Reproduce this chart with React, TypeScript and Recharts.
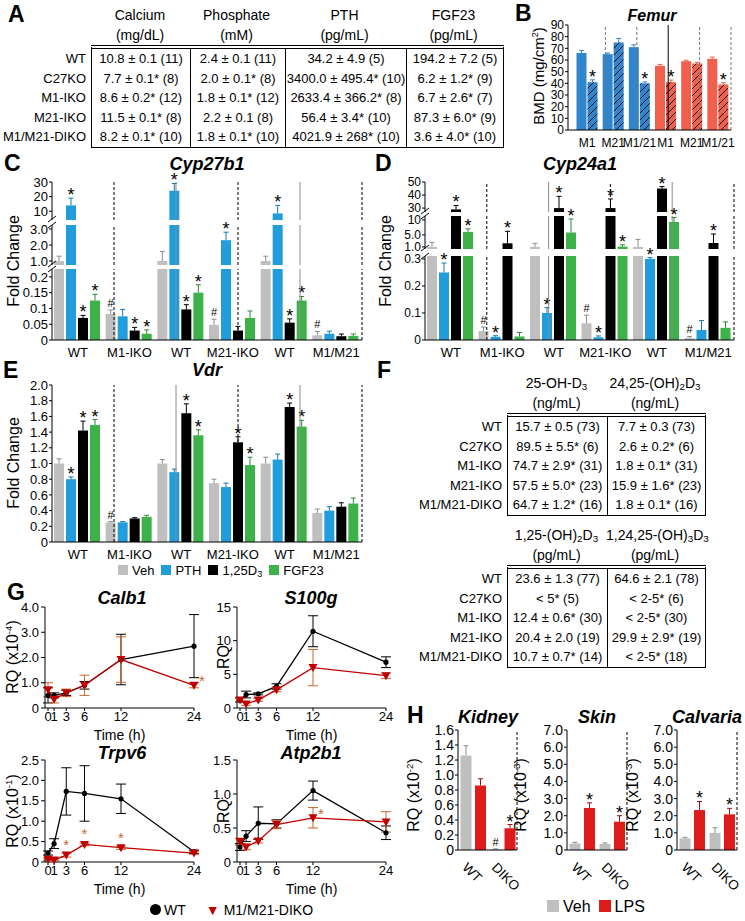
import React from "react";
import {
  BarChart,
  Bar,
  XAxis,
  YAxis,
  ReferenceLine,
  LineChart,
  Line,
  ErrorBar,
  Cell,
  LabelList,
} from "recharts";

type Pt = [number, number, string];
type Pair = [number, number];

const SANS = "'Liberation Sans', Arial, Helvetica, sans-serif";

const GRAY = "#bfbfbf";
const BLUE = "#229ddb";
const GREEN = "#3db249";
const BMD_BLUE = "#2f86cc";
const BMD_RED = "#f0604d";
const LPS_RED = "#dd1b1b";
const DIKO_RED = "#c00000";
const DIKO_ERR = "#c8682e";

// ---------- A: serum values
const serumRows = ["WT", "C27KO", "M1-IKO", "M21-IKO", "M1/M21-DIKO"];
const calciumCol = ["10.8 ± 0.1 (11)", "7.7 ± 0.1* (8)", "8.6 ± 0.2* (12)", "11.5 ± 0.1* (8)", "8.2 ± 0.1* (10)"];
const phosphateCol = ["2.4 ± 0.1 (11)", "2.0 ± 0.1* (8)", "1.8 ± 0.1* (12)", "2.2 ± 0.1 (8)", "1.8 ± 0.1* (10)"];
const pthCol = ["34.2 ± 4.9 (5)", "3400.0 ± 495.4* (10)", "2633.4 ± 366.2* (8)", "56.4 ± 3.4* (10)", "4021.9 ± 268* (10)"];
const fgf23Col = ["194.2 ± 7.2 (5)", "6.2 ± 1.2* (9)", "6.7 ± 2.6* (7)", "87.3 ± 6.0* (9)", "3.6 ± 4.0* (10)"];

// ---------- B: femur BMD
const bmdLabels = ["M1", "M21", "M1/21", "M1", "M21", "M1/21"];
const bmdCtrl: Pt[] = [[66, 2, ""], [65, 1, ""], [71, 2, ""], [55, 1.2, ""], [59, 0.8, ""], [61, 1.5, ""]];
const bmdKo: Pt[] = [[41, 2, "*"], [75, 3.5, ""], [40, 1.2, "*"], [41, 1.8, "*"], [57, 1, ""], [39, 1.5, "*"]];

// ---------- C/D/E: kidney gene expression
const kidneyGroups = ["WT", "M1-IKO", "WT", "M21-IKO", "WT", "M1/M21"];

const cyp27Veh: Pt[] = [[1.0, 0.3, ""], [0.083, 0.012, "#"], [1.0, 0.6, ""], [0.048, 0.018, "#"], [1.0, 0.3, ""], [0.015, 0.012, "#"]];
const cyp27Pth: Pt[] = [[14, 5, "*"], [0.075, 0.022, ""], [24, 5, "*"], [2.3, 0.5, "*"], [8.5, 5.5, "*"], [0.02, 0.008, ""]];
const cyp27D3: Pt[] = [[0.07, 0.008, "*"], [0.03, 0.01, "*"], [0.097, 0.015, "*"], [0.03, 0.013, ""], [0.055, 0.012, "*"], [0.012, 0.007, ""]];
const cyp27Fgf: Pt[] = [[0.125, 0.02, "*"], [0.02, 0.012, "*"], [0.15, 0.025, "*"], [0.07, 0.022, ""], [0.125, 0.013, "*"], [0.013, 0.006, ""]];

const cyp24Veh: Pt[] = [[1.0, 1.5, ""], [0.033, 0.015, "#"], [1.0, 1.2, ""], [0.062, 0.03, "#"], [1.0, 2.5, ""], [0.007, 0.006, "#"]];
const cyp24Pth: Pt[] = [[0.25, 0.035, "*"], [0.012, 0.004, "*"], [0.1, 0.02, "*"], [0.01, 0.005, "*"], [0.3, 0.005, "*"], [0.037, 0.035, ""]];
const cyp24D3: Pt[] = [[29, 3, "*"], [2.2, 4, "*"], [30, 9, "*"], [30, 7, "*"], [45, 1.5, "*"], [2.3, 3, "*"]];
const cyp24Fgf: Pt[] = [[6.0, 1, "*"], [0.013, 0.015, ""], [5.8, 4.5, "*"], [1.1, 0.6, "*"], [9.3, 1.5, "*"], [0.045, 0.022, ""]];

const vdrVeh: Pt[] = [[1.0, 0.06, ""], [0.25, 0.01, "#"], [1.0, 0.05, ""], [0.75, 0.05, ""], [1.0, 0.08, ""], [0.37, 0.05, ""]];
const vdrPth: Pt[] = [[0.8, 0.03, "*"], [0.25, 0.01, ""], [0.89, 0.04, ""], [0.7, 0.05, ""], [1.05, 0.07, ""], [0.4, 0.05, ""]];
const vdrD3: Pt[] = [[1.42, 0.12, "*"], [0.3, 0.01, ""], [1.64, 0.12, "*"], [1.27, 0.07, "*"], [1.72, 0.05, "*"], [0.45, 0.05, ""]];
const vdrFgf: Pt[] = [[1.49, 0.07, "*"], [0.32, 0.02, ""], [1.36, 0.07, "*"], [0.98, 0.1, "*"], [1.47, 0.08, "*"], [0.49, 0.07, ""]];

// ---------- F: vitamin D metabolites
const ohD3Col = ["15.7 ± 0.5 (73)", "89.5 ± 5.5* (6)", "74.7 ± 2.9* (31)", "57.5 ± 5.0* (23)", "64.7 ± 1.2* (16)"];
const d2425Col = ["7.7 ± 0.3 (73)", "2.6 ± 0.2* (6)", "1.8 ± 0.1* (31)", "15.9 ± 1.6* (23)", "1.8 ± 0.1* (16)"];
const d125Col = ["23.6 ± 1.3 (77)", "< 5* (5)", "12.4 ± 0.6* (30)", "20.4 ± 2.0 (19)", "10.7 ± 0.7* (14)"];
const d12425Col = ["64.6 ± 2.1 (78)", "< 2-5* (6)", "< 2-5* (30)", "29.9 ± 2.9* (19)", "< 2-5* (18)"];

// ---------- G: duodenal time course
const hours = [0, 1, 3, 6, 12, 24];
const calbWt: Pair[] = [[0.5, 0.3], [0.5, 0.1], [0.6, 0.1], [0.9, 0.15], [1.92, 1.0], [2.45, 1.25]];
const calbKo: Pair[] = [[0.72, 0.28], [0.35, 0.15], [0.6, 0.15], [0.9, 0.4], [1.92, 0.9], [0.9, 0.1]];
const calbKoSig = ["", "", "", "", "", "*"];
const s100Wt: Pair[] = [[1.2, 0.3], [2.0, 0.5], [2.1, 0.15], [3.2, 0.4], [11.4, 2.3], [6.8, 0.8]];
const s100Ko: Pair[] = [[1.2, 0.2], [0.6, 0.2], [1.2, 0.2], [2.7, 0.3], [6.0, 2.7], [4.8, 0.4]];
const s100KoSig = ["", "", "", "", "", ""];
const trpWt: Pair[] = [[0.22, 0.05], [0.45, 0.12], [1.73, 0.58], [1.68, 0.68], [1.55, 0.36], [0.25, 0.04]];
const trpKo: Pair[] = [[0.07, 0.03], [0.05, 0.02], [0.17, 0.05], [0.43, 0.03], [0.35, 0.04], [0.22, 0.03]];
const trpKoSig = ["", "", "*", "*", "*", ""];
const atpWt: Pair[] = [[0.22, 0.05], [0.38, 0.08], [0.57, 0.24], [0.56, 0.06], [1.05, 0.14], [0.43, 0.1]];
const atpKo: Pair[] = [[0.3, 0.05], [0.22, 0.04], [0.31, 0.03], [0.55, 0.06], [0.65, 0.15], [0.59, 0.15]];
const atpKoSig = ["", "", "", "", "*", ""];

// ---------- H: LPS response
const lpsGroups = ["WT", "DIKO"];
const kidVeh: Pt[] = [[1.26, 0.13, ""], [0.01, 0.005, "#"]];
const kidLps: Pt[] = [[0.86, 0.09, ""], [0.29, 0.05, "*"]];
const skinVeh: Pt[] = [[0.38, 0.07, ""], [0.35, 0.06, ""]];
const skinLps: Pt[] = [[2.45, 0.3, "*"], [1.65, 0.35, "*"]];
const calvVeh: Pt[] = [[0.68, 0.06, ""], [1.0, 0.3, ""]];
const calvLps: Pt[] = [[2.33, 0.5, "*"], [2.08, 0.35, "*"]];

type Series = { key: string; color: string; err: string; pts: Pt[] };
type Seg = { y: number; h: number; lo: number; hi: number; ticks: number[]; fmt: (v: number) => string };

const f1 = (v: number) => (v === 0 ? "0" : v.toFixed(1));
const fRaw = (v: number) => String(v);

const treatments = (veh: Pt[], pth: Pt[], d3: Pt[], fgf: Pt[]): Series[] => [
  { key: "veh", color: GRAY, err: "#8c8c8c", pts: veh },
  { key: "pth", color: BLUE, err: "#1478b5", pts: pth },
  { key: "d3", color: "#000", err: "#000", pts: d3 },
  { key: "fgf", color: GREEN, err: "#2a8a35", pts: fgf },
];

// bar + upward error whisker + significance mark, sized from the bar's own scale
function markedBar(key: string, lo: number, hi: number, openTop: boolean, errColor: (i: number) => string) {
  return (p: any) => {
    const row = p.payload || {};
    const m: number = row[key + "M"];
    const e: number = row[key + "E"];
    const s: string = row[key + "S"];
    const h = Math.max(0, p.height || 0);
    const shown = Math.min(m, hi) - lo;
    const hasTop = m > lo && (m <= hi || openTop) && shown > 0;
    const ppu = hasTop ? h / shown : 0;
    const cx = p.x + p.width / 2;
    const eTop = p.y - e * ppu;
    return (
      <g>
        {h > 0 && <rect x={p.x} y={p.y} width={p.width} height={h} fill={p.fill} />}
        {hasTop && e > 0 && (
          <g stroke={errColor(p.index ?? 0)} strokeWidth={1}>
            <line x1={cx} x2={cx} y1={p.y} y2={eTop} />
            <line x1={cx - 2.5} x2={cx + 2.5} y1={eTop} y2={eTop} />
          </g>
        )}
        {hasTop && s && (
          <text
            x={cx}
            y={s === "*" ? eTop + 3 : eTop - 3}
            textAnchor="middle"
            fontSize={s === "*" ? 18 : 11}
            fontFamily={SANS}
            fill="#000"
          >
            {s}
          </text>
        )}
      </g>
    );
  };
}

function buildRows(groups: string[], series: Series[], lo: number, hi: number) {
  return groups.map((g, i) => {
    const r: Record<string, any> = { g };
    series.forEach((s) => {
      const [m, e, k] = s.pts[i];
      r[s.key] = Math.min(Math.max(m, lo), hi);
      r[s.key + "M"] = m;
      r[s.key + "E"] = e;
      r[s.key + "S"] = k;
    });
    return r;
  });
}

const tickStyle = (size: number) => ({ fill: "#000", fontSize: size, fontFamily: SANS });

function SegmentBars(props: {
  left: number;
  width: number;
  axisW: number;
  seg: Seg;
  isTop: boolean;
  isBottom: boolean;
  groups: string[];
  series: Series[];
  yFont?: number;
}) {
  const { left, width, axisW, seg, isTop, isBottom, groups, series } = props;
  const rows = buildRows(groups, series, seg.lo, seg.hi);
  const xH = isBottom ? 22 : 0;
  return (
    <div style={{ position: "absolute", left, top: seg.y }}>
      <BarChart
        width={width}
        height={seg.h + xH}
        data={rows}
        margin={{ top: 0, right: 1, bottom: 0, left: 0 }}
        barCategoryGap={2}
        barGap={2}
      >
        <XAxis
          dataKey="g"
          hide={!isBottom}
          height={xH}
          tickLine={false}
          axisLine={{ stroke: "#000" }}
          tick={tickStyle(13)}
          interval={0}
        />
        <XAxis xAxisId="sep" type="number" domain={[0, groups.length]} hide />
        <YAxis
          domain={[seg.lo, seg.hi]}
          ticks={seg.ticks}
          tickFormatter={seg.fmt}
          width={axisW}
          interval={0}
          tick={tickStyle(props.yFont || 13)}
          tickSize={3}
          tickMargin={1}
          axisLine={{ stroke: "#000" }}
          tickLine={{ stroke: "#000" }}
        />
        {[1, 2, 3, 4, 5, 6].map((i) => (
          <ReferenceLine
            key={i}
            xAxisId="sep"
            x={i}
            stroke={i % 2 ? "#000" : "#8a8a8a"}
            strokeDasharray={i % 2 ? "3 2" : undefined}
            strokeWidth={1}
          />
        ))}
        {series.map((s) => (
          <Bar
            key={s.key}
            dataKey={s.key}
            fill={s.color}
            isAnimationActive={false}
            shape={markedBar(s.key, seg.lo, seg.hi, isTop, () => s.err)}
          />
        ))}
      </BarChart>
    </div>
  );
}

function BrokenChart(props: { left: number; width: number; axisW: number; segs: Seg[]; series: Series[]; yFont?: number }) {
  const { left, width, axisW, segs, series } = props;
  const ax = left + axisW;
  return (
    <>
      {segs.map((seg, i) => (
        <SegmentBars
          key={i}
          left={left}
          width={width}
          axisW={axisW}
          seg={seg}
          isTop={i === 0}
          isBottom={i === segs.length - 1}
          groups={kidneyGroups}
          series={series}
          yFont={props.yFont}
        />
      ))}
      <svg style={{ position: "absolute", left: 0, top: 0, overflow: "visible" }} width={1} height={1}>
        {segs.slice(1).map((seg, i) => {
          const upper = segs[i].y + segs[i].h;
          const lower = seg.y;
          return (
            <g key={i} stroke="#000" strokeWidth={1}>
              <line x1={ax - 4} y1={upper + 2} x2={ax + 4} y2={upper - 4} />
              <line x1={ax - 4} y1={lower + 3} x2={ax + 4} y2={lower - 3} />
            </g>
          );
        })}
      </svg>
    </>
  );
}

function SimpleBars(props: {
  left: number;
  top: number;
  width: number;
  plotH: number;
  axisW: number;
  xH: number;
  xPad?: number;
  lo: number;
  hi: number;
  ticks: number[];
  fmt: (v: number) => string;
  fontSize: number;
  xFontSize?: number;
  groups: string[];
  series: Series[];
  gap: number;
  barGap: number;
  seps: { x: number; dashed: boolean; color: string }[];
  tick?: any;
  cellFill?: (key: string, i: number) => string;
  errFill?: (key: string, i: number) => string;
}) {
  const rows = buildRows(props.groups, props.series, props.lo, props.hi);
  const pad = { left: props.xPad || 0, right: 0 };
  return (
    <div style={{ position: "absolute", left: props.left, top: props.top }}>
      <BarChart
        width={props.width}
        height={props.plotH + props.xH}
        data={rows}
        margin={{ top: 0, right: 1, bottom: 0, left: 0 }}
        barCategoryGap={props.gap}
        barGap={props.barGap}
      >
        <XAxis
          dataKey="g"
          height={props.xH}
          padding={pad}
          tickLine={false}
          axisLine={{ stroke: "#000" }}
          tick={props.tick || tickStyle(props.xFontSize || props.fontSize)}
          interval={0}
        />
        <XAxis xAxisId="sep" type="number" domain={[0, props.groups.length]} padding={pad} hide />
        <YAxis
          domain={[props.lo, props.hi]}
          ticks={props.ticks}
          tickFormatter={props.fmt}
          width={props.axisW}
          interval={0}
          tick={tickStyle(props.fontSize)}
          tickSize={3}
          tickMargin={1}
          axisLine={{ stroke: "#000" }}
          tickLine={{ stroke: "#000" }}
        />
        {props.seps.map((s) => (
          <ReferenceLine
            key={s.x}
            xAxisId="sep"
            x={s.x}
            stroke={s.color}
            strokeDasharray={s.dashed ? "3 2" : undefined}
          />
        ))}
        {props.series.map((s) => (
          <Bar
            key={s.key}
            dataKey={s.key}
            fill={s.color}
            isAnimationActive={false}
            shape={markedBar(s.key, props.lo, props.hi, true, (i) => (props.errFill ? props.errFill(s.key, i) : s.err))}
          >
            {props.cellFill && rows.map((_, i) => <Cell key={i} fill={props.cellFill!(s.key, i)} />)}
          </Bar>
        ))}
      </BarChart>
    </div>
  );
}

const triDot = (p: any) => {
  if (p.cx == null || p.cy == null) return <g key={p.index} />;
  const { cx, cy } = p;
  return <path key={p.index} d={`M${cx - 4.5},${cy - 3.5} L${cx + 4.5},${cy - 3.5} L${cx},${cy + 4.5} Z`} fill={DIKO_RED} />;
};

function TimeCourse(props: {
  left: number;
  top: number;
  width: number;
  plotH: number;
  axisW: number;
  max: number;
  ticks: number[];
  fmt: (v: number) => string;
  wt: Pair[];
  ko: Pair[];
  koSig: string[];
  starRight: boolean;
}) {
  const rows = hours.map((t, i) => ({
    t,
    wt: props.wt[i][0],
    wtE: props.wt[i][1],
    ko: props.ko[i][0],
    koE: props.ko[i][1],
    koS: props.koSig[i],
  }));
  const Star = (p: any) => {
    if (!p.value) return null;
    return (
      <text
        x={props.starRight ? p.x + 8 : p.x}
        y={props.starRight ? p.y + 1 : p.y - 5}
        textAnchor="middle"
        fontSize={15}
        fontFamily={SANS}
        fill={DIKO_ERR}
      >
        *
      </text>
    );
  };
  return (
    <div style={{ position: "absolute", left: props.left, top: props.top }}>
      <LineChart
        width={props.width}
        height={props.plotH + 32}
        data={rows}
        margin={{ top: 0, right: 1, bottom: 0, left: 0 }}
      >
        <XAxis
          dataKey="t"
          type="number"
          domain={[0, 24]}
          ticks={hours}
          interval={0}
          padding={{ left: 3, right: 0 }}
          tick={tickStyle(13)}
          tickSize={3}
          tickMargin={1}
          axisLine={{ stroke: "#000" }}
          tickLine={{ stroke: "#000" }}
          height={32}
          label={{ value: "Time (h)", position: "insideBottom", offset: 0, fill: "#000", fontSize: 14, fontFamily: SANS }}
        />
        <YAxis
          domain={[0, props.max]}
          ticks={props.ticks}
          tickFormatter={props.fmt}
          width={props.axisW}
          interval={0}
          tick={tickStyle(13)}
          tickSize={4}
          axisLine={{ stroke: "#000" }}
          tickLine={{ stroke: "#000" }}
        />
        <Line
          dataKey="wt"
          stroke="#000"
          strokeWidth={1.3}
          dot={{ r: 2.6, fill: "#000", stroke: "#000", strokeWidth: 0 }}
          isAnimationActive={false}
        >
          <ErrorBar dataKey="wtE" width={5} stroke="#000" strokeWidth={1} direction="y" />
        </Line>
        <Line dataKey="ko" stroke={DIKO_RED} strokeWidth={1.3} dot={triDot} isAnimationActive={false}>
          <ErrorBar dataKey="koE" width={5} stroke={DIKO_ERR} strokeWidth={1} direction="y" />
          <LabelList dataKey="koS" content={Star} />
        </Line>
      </LineChart>
    </div>
  );
}

// ---------- layout helpers
const Letter = ({ x, y, t }: { x: number; y: number; t: string }) => (
  <div style={{ position: "absolute", left: x, top: y - 12, fontSize: 23, fontWeight: 700, lineHeight: "24px" }}>{t}</div>
);

const Title = ({ cx, cy, t, size = 18 }: { cx: number; cy: number; t: string; size?: number }) => (
  <div
    style={{
      position: "absolute",
      left: cx - 100,
      top: cy - 12,
      width: 200,
      textAlign: "center",
      fontSize: size,
      fontWeight: 700,
      fontStyle: "italic",
      lineHeight: "24px",
    }}
  >
    {t}
  </div>
);

const VTitle = ({ cx, cy, size, children }: { cx: number; cy: number; size: number; children: React.ReactNode }) => (
  <div
    style={{
      position: "absolute",
      left: cx,
      top: cy,
      transform: "translate(-50%, -50%) rotate(-90deg)",
      whiteSpace: "nowrap",
      fontSize: size,
      lineHeight: `${size + 2}px`,
    }}
  >
    {children}
  </div>
);

const Sup = ({ t }: { t: string }) => <sup style={{ fontSize: "0.6em", verticalAlign: "0.6em", lineHeight: 0 }}>{t}</sup>;
const Sub = ({ t }: { t: string }) => <sub style={{ fontSize: "0.7em", verticalAlign: "-0.25em", lineHeight: 0 }}>{t}</sub>;

function StatTable(props: {
  left: number;
  top: number;
  colW: number[];
  rowH: number;
  heads: React.ReactNode[][];
  cols: string[][];
}) {
  const { left, top, colW, rowH, heads, cols } = props;
  const offs = colW.map((_, j) => colW.slice(0, j).reduce((a, b) => a + b, 0));
  return (
    <>
      {heads.map((h, j) => (
        <div
          key={"h" + j}
          style={{
            position: "absolute",
            left: left + offs[j],
            top: top - 40,
            width: colW[j],
            textAlign: "center",
            fontSize: 14,
            lineHeight: "20px",
            whiteSpace: "nowrap",
          }}
        >
          <div>{h[0]}</div>
          <div>{h[1]}</div>
        </div>
      ))}
      {serumRows.map((r, i) => (
        <div
          key={"r" + i}
          style={{
            position: "absolute",
            left: left - 125,
            width: 120,
            textAlign: "right",
            top: top + 4 + i * rowH,
            fontSize: 13,
            lineHeight: `${rowH}px`,
          }}
        >
          {r}
        </div>
      ))}
      <div
        style={{
          position: "absolute",
          left,
          top,
          display: "flex",
          borderTop: "4px double #000",
          borderLeft: "1.5px solid #000",
          borderRight: "1.5px solid #000",
          borderBottom: "1.5px solid #000",
        }}
      >
        {cols.map((c, j) => (
          <div
            key={j}
            style={{
              width: colW[j] - (j > 0 ? 1 : 0),
              borderLeft: j > 0 ? "1px solid #000" : undefined,
              textAlign: "center",
              fontSize: 13,
              whiteSpace: "nowrap",
            }}
          >
            {c.map((v, i) => (
              <div key={i} style={{ height: rowH, lineHeight: `${rowH}px` }}>
                {v}
              </div>
            ))}
          </div>
        ))}
      </div>
    </>
  );
}

const Swatch = ({ color, size }: { color: string; size: number }) => (
  <span style={{ display: "inline-block", width: size, height: size, background: color, marginRight: 4 }} />
);

const legendRow = (left: number, top: number, size: number, gap: number): React.CSSProperties => ({
  position: "absolute",
  left,
  top,
  display: "flex",
  alignItems: "center",
  gap,
  fontSize: size,
  lineHeight: `${size + 4}px`,
  whiteSpace: "nowrap",
});

export default function App() {
  const cSegs: Seg[] = [
    { y: 182, h: 38, lo: 4, hi: 30, ticks: [10, 20, 30], fmt: fRaw },
    { y: 225, h: 40, lo: 0.75, hi: 3.25, ticks: [1, 2, 3], fmt: (v) => v.toFixed(1) },
    { y: 269, h: 71, lo: 0, hi: 0.225, ticks: [0, 0.05, 0.1, 0.15, 0.2], fmt: fRaw },
  ];
  const dSegs: Seg[] = [
    { y: 182, h: 30, lo: 27, hi: 50, ticks: [30, 40, 50], fmt: fRaw },
    { y: 216, h: 33, lo: 0.3, hi: 11.3, ticks: [1, 5, 10], fmt: (v) => (v >= 10 ? String(v) : v.toFixed(1)) },
    { y: 256, h: 84, lo: 0, hi: 0.311, ticks: [0, 0.1, 0.2, 0.3], fmt: fRaw },
  ];
  const eSeg: Seg = {
    y: 385,
    h: 157,
    lo: 0,
    hi: 2,
    ticks: [0, 0.2, 0.4, 0.6, 0.8, 1, 1.2, 1.4, 1.6, 1.8, 2],
    fmt: f1,
  };

  const bmdSeries: Series[] = [
    { key: "ctrl", color: BMD_BLUE, err: BMD_BLUE, pts: bmdCtrl },
    { key: "ko", color: BMD_BLUE, err: BMD_BLUE, pts: bmdKo },
  ];
  const bmdColor = (i: number) => (i < 3 ? BMD_BLUE : BMD_RED);

  const lpsSeries = (veh: Pt[], lps: Pt[]): Series[] => [
    { key: "veh", color: GRAY, err: "#8c8c8c", pts: veh },
    { key: "lps", color: LPS_RED, err: "#a01010", pts: lps },
  ];

  const rotTick = (p: any) => {
    const x = p.x - 8;
    const y = p.y + 7;
    return (
      <text x={x} y={y} dy="0.35em" transform={`rotate(45 ${x} ${y})`} fontSize={13.5} fontFamily={SANS} fill="#000" textAnchor="start">
        {p.payload.value}
      </text>
    );
  };

  const hProps = {
    top: 730,
    width: 118,
    plotH: 120,
    xH: 45,
    fontSize: 14,
    groups: lpsGroups,
    gap: 2.5,
    barGap: 3.5,
    seps: [{ x: 1, dashed: true, color: "#000" }],
    tick: rotTick,
  };

  return (
    <div
      style={{
        position: "absolute",
        left: 0,
        top: 0,
        width: 745,
        height: 921,
        background: "#fff",
        fontFamily: SANS,
        color: "#000",
        overflow: "hidden",
      }}
    >
      <style>{`.recharts-surface{overflow:visible}`}</style>
      <svg width={0} height={0} style={{ position: "absolute" }}>
        <defs>
          <pattern id="hatchBlue" patternUnits="userSpaceOnUse" width={7} height={7}>
            <rect width={7} height={7} fill={BMD_BLUE} />
            <path d="M-1,1 l2,-2 M0,7 l7,-7 M6,8 l2,-2" stroke="#111" strokeWidth={1} />
          </pattern>
          <pattern id="hatchRed" patternUnits="userSpaceOnUse" width={7} height={7}>
            <rect width={7} height={7} fill={BMD_RED} />
            <path d="M-1,1 l2,-2 M0,7 l7,-7 M6,8 l2,-2" stroke="#111" strokeWidth={1} />
          </pattern>
        </defs>
      </svg>

      {/* A */}
      <Letter x={8} y={14} t="A" />
      <StatTable
        left={91}
        top={45}
        colW={[98, 95, 121, 97]}
        rowH={19.6}
        heads={[
          ["Calcium", "(mg/dL)"],
          ["Phosphate", "(mM)"],
          ["PTH", "(pg/mL)"],
          ["FGF23", "(pg/mL)"],
        ]}
        cols={[calciumCol, phosphateCol, pthCol, fgf23Col]}
      />

      {/* B */}
      <Letter x={515} y={13} t="B" />
      <Title cx={652} cy={16} t="Femur" size={16} />
      <VTitle cx={538} cy={76} size={15}>
        BMD (mg/cm<Sup t="2" />)
      </VTitle>
      <SimpleBars
        left={511}
        top={25}
        width={221}
        plotH={105}
        axisW={57}
        xH={18}
        xPad={6}
        lo={0}
        hi={90}
        ticks={[0, 10, 20, 30, 40, 50, 60, 70, 80, 90]}
        fmt={fRaw}
        fontSize={12}
        xFontSize={12}
        groups={bmdLabels}
        series={bmdSeries}
        gap={2.5}
        barGap={1}
        seps={[
          { x: 1, dashed: true, color: "#777" },
          { x: 2, dashed: true, color: "#777" },
          { x: 3, dashed: false, color: "#000" },
          { x: 4, dashed: true, color: "#777" },
          { x: 5, dashed: true, color: "#777" },
        ]}
        cellFill={(key, i) => (key === "ko" ? (i < 3 ? "url(#hatchBlue)" : "url(#hatchRed)") : bmdColor(i))}
        errFill={(_, i) => bmdColor(i)}
      />

      {/* C */}
      <Letter x={4} y={163} t="C" />
      <Title cx={207} cy={164} t="Cyp27b1" />
      <VTitle cx={14} cy={261} size={16}>
        Fold Change
      </VTitle>
      <BrokenChart left={0} width={363} axisW={52} segs={cSegs} series={treatments(cyp27Veh, cyp27Pth, cyp27D3, cyp27Fgf)} />

      {/* D */}
      <Letter x={375} y={163} t="D" />
      <Title cx={580} cy={164} t="Cyp24a1" />
      <VTitle cx={386} cy={261} size={16}>
        Fold Change
      </VTitle>
      <BrokenChart left={370} width={365} axisW={55} segs={dSegs} yFont={12} series={treatments(cyp24Veh, cyp24Pth, cyp24D3, cyp24Fgf)} />

      {/* E */}
      <Letter x={3} y={370} t="E" />
      <Title cx={207} cy={370} t="Vdr" />
      <VTitle cx={14} cy={463} size={16}>
        Fold Change
      </VTitle>
      <SegmentBars
        left={0}
        width={363}
        axisW={52}
        seg={eSeg}
        isTop
        isBottom
        groups={kidneyGroups}
        series={treatments(vdrVeh, vdrPth, vdrD3, vdrFgf)}
      />
      <div style={legendRow(118, 562, 13, 7)}>
        <span>
          <Swatch color={GRAY} size={10} />
          Veh
        </span>
        <span>
          <Swatch color={BLUE} size={10} />
          PTH
        </span>
        <span>
          <Swatch color="#000" size={10} />
          1,25D<Sub t="3" />
        </span>
        <span>
          <Swatch color={GREEN} size={10} />
          FGF23
        </span>
      </div>

      {/* F */}
      <Letter x={377} y={370} t="F" />
      <StatTable
        left={507}
        top={413}
        colW={[99, 98]}
        rowH={19.6}
        heads={[
          [<>25-OH-D<Sub t="3" /></>, "(ng/mL)"],
          [<>24,25-(OH)<Sub t="2" />D<Sub t="3" /></>, "(ng/mL)"],
        ]}
        cols={[ohD3Col, d2425Col]}
      />
      <StatTable
        left={507}
        top={565}
        colW={[99, 98]}
        rowH={19.6}
        heads={[
          [<>1,25-(OH)<Sub t="2" />D<Sub t="3" /></>, "(pg/mL)"],
          [<>1,24,25-(OH)<Sub t="3" />D<Sub t="3" /></>, "(pg/mL)"],
        ]}
        cols={[d125Col, d12425Col]}
      />

      {/* G */}
      <Letter x={7} y={592} t="G" />
      <Title cx={122} cy={598} t="Calb1" />
      <Title cx={311} cy={598} t="S100g" />
      <Title cx={122} cy={753} t="Trpv6" />
      <Title cx={311} cy={753} t="Atp2b1" />
      <VTitle cx={13} cy={657} size={16}>
        RQ (x10<Sup t="-4" />)
      </VTitle>
      <VTitle cx={224} cy={657} size={16}>
        RQ
      </VTitle>
      <VTitle cx={13} cy={811} size={16}>
        RQ (x10<Sup t="-1" />)
      </VTitle>
      <VTitle cx={224} cy={811} size={16}>
        RQ
      </VTitle>
      <TimeCourse left={0} top={607} width={195} plotH={101} axisW={45} max={4} ticks={[0, 1, 2, 3, 4]} fmt={f1} wt={calbWt} ko={calbKo} koSig={calbKoSig} starRight />
      <TimeCourse left={190} top={607} width={197} plotH={101} axisW={47} max={15} ticks={[0, 5, 10, 15]} fmt={fRaw} wt={s100Wt} ko={s100Ko} koSig={s100KoSig} starRight />
      <TimeCourse left={0} top={760} width={195} plotH={102} axisW={45} max={2.5} ticks={[0, 0.5, 1, 1.5, 2, 2.5]} fmt={f1} wt={trpWt} ko={trpKo} koSig={trpKoSig} starRight={false} />
      <TimeCourse left={190} top={760} width={197} plotH={102} axisW={47} max={1.5} ticks={[0, 0.5, 1, 1.5]} fmt={f1} wt={atpWt} ko={atpKo} koSig={atpKoSig} starRight />
      <div style={legendRow(150, 901, 14, 20)}>
        <span>
          <span style={{ display: "inline-block", width: 11, height: 11, borderRadius: 6, background: "#000", marginRight: 3 }} />
          WT
        </span>
        <span>
          <span style={{ color: DIKO_RED, marginRight: 4 }}>▼</span>M1/M21-DIKO
        </span>
      </div>

      {/* H */}
      <Letter x={407} y={715} t="H" />
      <Title cx={488} cy={717} t="Kidney" />
      <Title cx={597} cy={717} t="Skin" />
      <Title cx={707} cy={717} t="Calvaria" />
      <VTitle cx={414} cy={795} size={16}>
        RQ (x10<Sup t="-2" />)
      </VTitle>
      <VTitle cx={521} cy={795} size={16}>
        RQ (x10<Sup t="-3" />)
      </VTitle>
      <VTitle cx={633} cy={795} size={16}>
        RQ (x10<Sup t="-3" />)
      </VTitle>
      <SimpleBars {...hProps} left={400} axisW={58} lo={0} hi={1.6} ticks={[0, 0.2, 0.4, 0.6, 0.8, 1, 1.2, 1.4, 1.6]} fmt={f1} series={lpsSeries(kidVeh, kidLps)} />
      <SimpleBars {...hProps} left={510} axisW={57} lo={0} hi={7} ticks={[0, 1, 2, 3, 4, 5, 6, 7]} fmt={f1} series={lpsSeries(skinVeh, skinLps)} />
      <SimpleBars {...hProps} left={620} axisW={57} lo={0} hi={7} ticks={[0, 1, 2, 3, 4, 5, 6, 7]} fmt={f1} series={lpsSeries(calvVeh, calvLps)} />
      <div style={legendRow(547, 897, 16, 8)}>
        <span>
          <Swatch color={GRAY} size={12} />
          Veh
        </span>
        <span>
          <Swatch color={LPS_RED} size={12} />
          LPS
        </span>
      </div>
    </div>
  );
}
